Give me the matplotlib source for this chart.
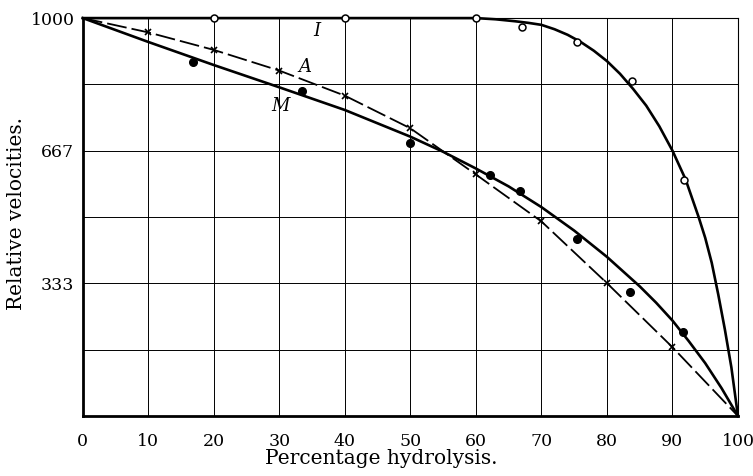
import matplotlib.pyplot as plt

# curve I (open circles)
i_x = [0, 20, 40, 60, 63, 66, 68, 70, 72, 74, 76, 78, 80, 82, 84, 86, 88, 90, 92, 94, 95, 96, 97, 98, 99, 100]
i_y = [1000, 1000, 1000, 1000, 997, 992, 988, 983, 972, 958, 940, 918, 892, 860, 822, 780, 728, 667,
       595, 500, 448, 385, 305, 218, 122, 0]
i_pts_x = [20, 40, 60, 67, 75.5, 83.8, 91.7]
i_pts_y = [1000, 1000, 1000, 978, 939, 842, 593]

# curve A (dashed, crosses)
a_x = [0, 10, 20, 30, 40, 50, 60, 70, 80, 90, 100]
a_y = [1000, 964, 920, 868, 805, 723, 607, 489, 334, 173, 0]
a_pts_x = [10, 20, 30, 40, 50, 60, 70, 80, 90]
a_pts_y = [964, 920, 868, 805, 723, 607, 489, 334, 173]

# curve M (solid, filled dots)
m_x = [0, 10, 20, 30, 40, 50, 55, 60, 65, 70, 75, 80, 85, 87.5, 90, 92.5, 95, 97.5, 100]
m_y = [1000, 940, 882, 826, 769, 702, 664, 622, 577, 525, 466, 400, 326, 285, 240, 188, 133, 70, 0]
m_pts_x = [16.8, 33.4, 49.9, 62.2, 66.7, 75.5, 83.5, 91.6]
m_pts_y = [890, 817, 685, 605, 566, 444, 312, 212]

x_ticks = list(range(0, 101, 10))
y_grid = [0, 1000 / 6, 1000 / 3, 500, 2000 / 3, 5000 / 6, 1000]
y_labels = ['', '', '333', '', '667', '', '1000']

plt.rcParams['font.family'] = ['DejaVu Serif']

fig = plt.figure(figsize=(7.53, 4.76), dpi=100)
ax = fig.add_axes([0.110, 0.126, 0.870, 0.836])

ax.plot(i_x, i_y, color='black', lw=1.9, clip_on=False, zorder=3)
ax.plot(i_pts_x, i_pts_y, 'o', mfc='white', mec='black', ms=5, mew=1.1, clip_on=False, zorder=4)

ax.plot(a_x, a_y, color='black', lw=1.3, dashes=(11, 2.8), clip_on=False, zorder=3)
ax.plot(a_pts_x, a_pts_y, 'x', color='black', ms=5, mew=1.2, zorder=4)

ax.plot(m_x, m_y, color='black', lw=1.9, clip_on=False, zorder=3)
ax.plot(m_pts_x, m_pts_y, 'o', color='black', ms=5.5, zorder=4)

ax.text(35.7, 967, 'I', style='italic', fontsize=13, ha='center', va='center')
ax.text(33.9, 877, 'A', style='italic', fontsize=13, ha='center', va='center')
ax.text(30.1, 779, 'M', style='italic', fontsize=13, ha='center', va='center')

ax.set_xlim(0, 100)
ax.set_ylim(0, 1000)
ax.set_xticks(x_ticks)
ax.set_yticks(y_grid)
ax.set_yticklabels(y_labels)
ax.tick_params(length=0, labelsize=12.5)
ax.tick_params(axis='x', pad=12)
ax.tick_params(axis='y', pad=6)
ax.grid(True, color='black', lw=0.7)

for side in ['top', 'right']:
    ax.spines[side].set_linewidth(0.8)
for side in ['left', 'bottom']:
    ax.spines[side].set_linewidth(2.0)

ax.set_xlabel('Percentage hydrolysis.', fontsize=14.5)
ax.set_ylabel('Relative velocities.', fontsize=14.5)
ax.xaxis.set_label_coords(0.456, -0.083)
ax.yaxis.set_label_coords(-0.087, 0.51)

plt.savefig('out.png', dpi=100)
plt.close()
